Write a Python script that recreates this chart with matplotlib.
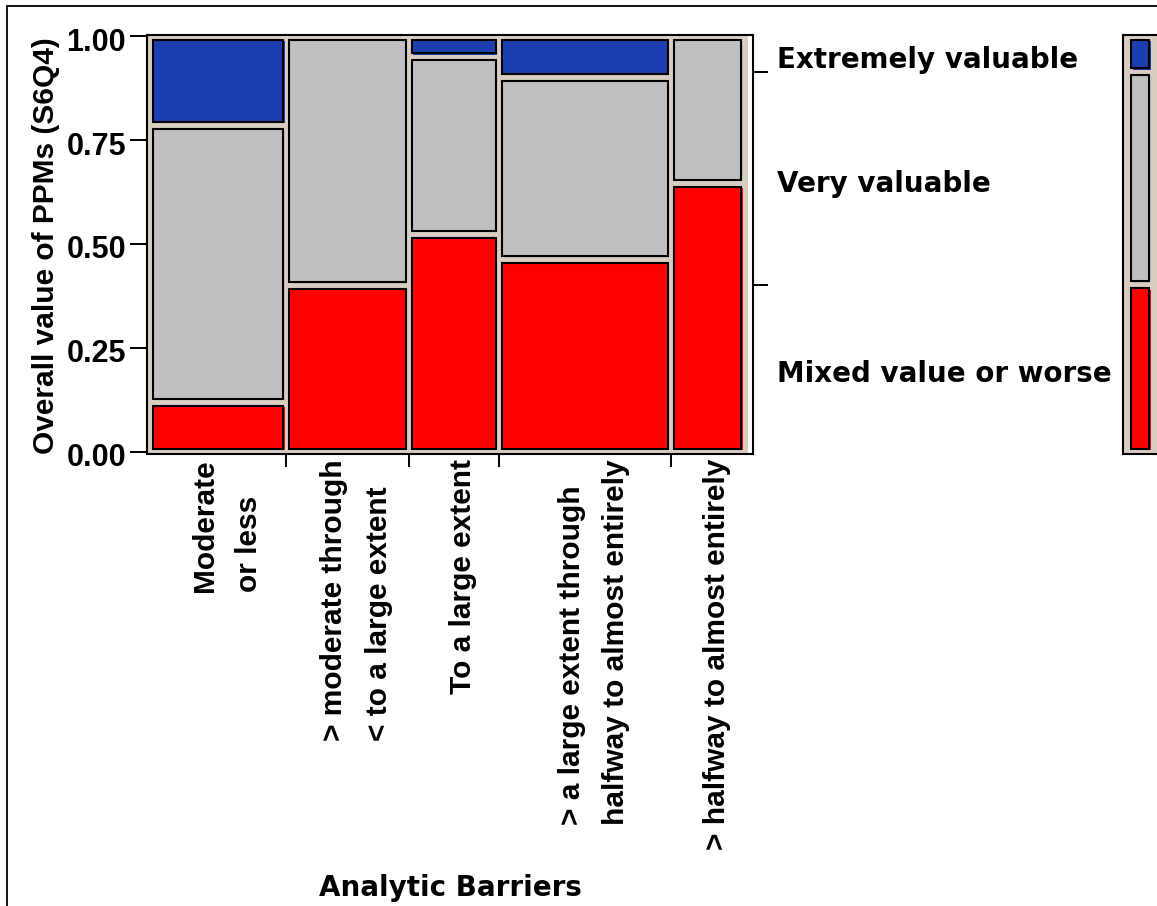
import matplotlib.pyplot as plt
import matplotlib.patches as mpatches
import matplotlib.transforms as mtransforms
import numpy as np

plt.rcParams["font.family"] = "Liberation Sans"
plt.rcParams["font.weight"] = "bold"

# Analytic Barriers groups (x) and share of respondents in each
categories = [
    "Moderate\nor less",
    "> moderate through\n< to a large extent",
    "To a large extent",
    "> a large extent through\nhalfway to almost entirely",
    "> halfway to almost entirely",
]
group_share = [0.229, 0.207, 0.1515, 0.2896, 0.1229]

# Overall value of PPMs (S6Q4) within each group, bottom to top
mixed_share = [0.119, 0.400, 0.524, 0.462, 0.646]
very_share = [0.666, 0.600, 0.426, 0.439, 0.354]
extreme_share = [0.215, 0.0, 0.050, 0.099, 0.0]

level_names = ["Mixed value or worse", "Very valuable", "Extremely valuable"]
level_colors = ["#ff0000", "#c0c0c0", "#1b3fae"]

y_ticks = [0.0, 0.25, 0.50, 0.75, 1.00]
y_tick_labels = ["0.00", "0.25", "0.50", "0.75", "1.00"]

BEIGE = "#d9cdc2"
W, H = 1157, 906


def px_box(left, top, right, bottom):
    return [left / W, 1 - bottom / H, (right - left) / W, (bottom - top) / H]


def draw_cells(ax, x0, x1, shares, dy, dx):
    bottom = 0.0
    for share, color in zip(shares, level_colors):
        if share > 0:
            y0 = bottom + 3.5 * dy
            y1 = bottom + share - 3.5 * dy
            # slightly shifted fill under the outlined cell
            ax.add_patch(mpatches.Rectangle((x0 + 1.5 * dx, y0 - 1.5 * dy), x1 - x0, y1 - y0,
                                            facecolor=color, edgecolor="none", zorder=2))
            ax.add_patch(mpatches.Rectangle((x0, y0), x1 - x0, y1 - y0,
                                            facecolor=color, edgecolor="black", lw=1.5, zorder=3))
        bottom += share


widths = np.array(group_share) / np.sum(group_share)
lefts = np.concatenate([[0], np.cumsum(widths)[:-1]])
levels = np.array([mixed_share, very_share, extreme_share])
overall = levels @ widths
overall_cum = np.cumsum(overall)

fig = plt.figure(figsize=(W / 100, H / 100), dpi=100)

# main mosaic
ax = fig.add_axes(px_box(147, 35, 753, 454))
dx = 1 / 594
dy = 1 / 416
ax.set_xlim(-3 * dx, 1 + 9 * dx)
ax.set_ylim(-2 * dy, 1 + 1 * dy)
ax.add_patch(mpatches.Rectangle((-2 * dx, -2 * dy), 1 + 6 * dx, 1 + 3 * dy,
                                facecolor=BEIGE, edgecolor="none", zorder=1))

for i in range(len(categories)):
    draw_cells(ax, lefts[i] + 3 * dx, lefts[i] + widths[i] - 3 * dx,
               levels[:, i], dy, dx)

for sp in ax.spines.values():
    sp.set_linewidth(1.5)
    sp.set_zorder(5)

ax.set_yticks(y_ticks, y_tick_labels)
ax.tick_params(axis="y", length=12.2, width=1.4, pad=3, labelsize=22)
shift = mtransforms.ScaledTranslation(0, -3 / 100, fig.dpi_scale_trans)
for lbl in ax.get_yticklabels():
    lbl.set_transform(lbl.get_transform() + shift)

ax.set_xticks(np.cumsum(widths)[:-1], [])
ax.tick_params(axis="x", length=9.4, width=1.4)

for i, name in enumerate(categories):
    ax.annotate(name, xy=(lefts[i] + widths[i] / 2, 0), xycoords=("data", "axes fraction"),
                xytext=(6.5, -3.6), textcoords="offset points",
                rotation=90, ha="center", va="top", multialignment="left",
                fontsize=21.5, linespacing=1.75)

# right axis: overall split with level names
axr = ax.twinx()
axr.set_ylim(ax.get_ylim())
axr.set_yticks(overall_cum[:2], [])
axr.tick_params(axis="y", length=10.8, width=1.4)
for sp in axr.spines.values():
    sp.set_visible(False)

mids = overall_cum - overall / 2
for name, mid in zip(level_names, mids):
    ax.annotate(name, xy=(1, mid), xycoords=("axes fraction", "data"),
                xytext=(17.3, -10), textcoords="offset points",
                ha="left", va="baseline", family="DejaVu Sans", fontsize=20)

# marginal bar for all respondents
axm = fig.add_axes(px_box(1123, 35, 1166, 454))
axm.set_xlim(0, 43)
axm.set_ylim(ax.get_ylim())
axm.set_facecolor(BEIGE)
draw_cells(axm, 8, 26, overall, dy, 1)
axm.set_xticks([])
axm.set_yticks([])
for sp in axm.spines.values():
    sp.set_linewidth(1.5)

fig.text(46 / W, 1 - 246 / H, "Overall value of PPMs (S6Q4)", rotation=90,
         ha="center", va="center", fontsize=21.5)
fig.text(450 / W, 1 - 896 / H, "Analytic Barriers", ha="center", va="baseline",
         family="DejaVu Sans", fontsize=20)

# outer frame
fig.add_artist(mpatches.Rectangle((7 / W, -1), 2, 2 - 6 / H, transform=fig.transFigure,
                                  fill=False, edgecolor="black", lw=1.3))

fig.savefig("out.png", dpi=100)
